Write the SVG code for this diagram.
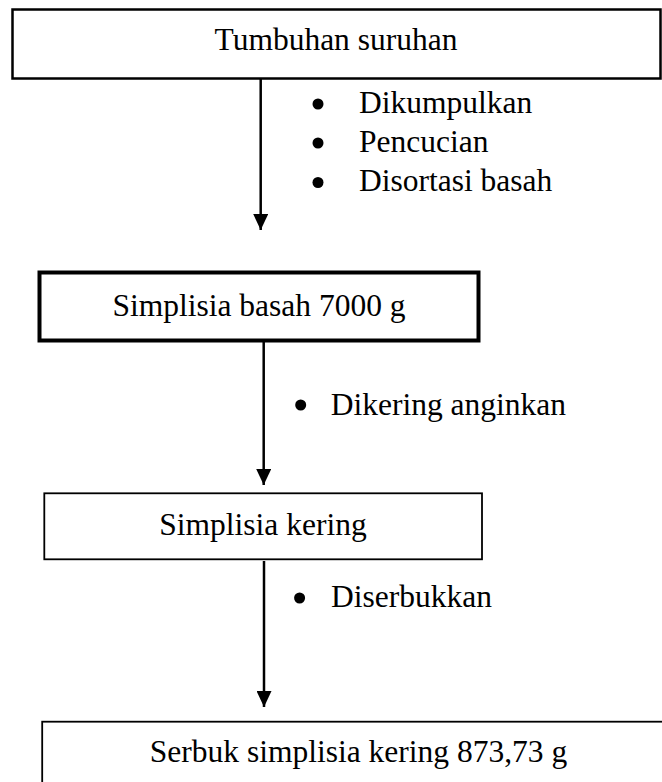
<svg xmlns="http://www.w3.org/2000/svg" width="662" height="782" viewBox="0 0 662 782">
  <defs>
    <marker id="arrow" viewBox="0 0 16 15" refX="16" refY="7.5" markerWidth="16" markerHeight="15" markerUnits="userSpaceOnUse" orient="auto">
      <path d="M0,0 L16,7.5 L0,15 Z" fill="#000"/>
    </marker>
    <style>
      .box { fill: #fff; stroke: #000; }
      .label { font-family: "Liberation Serif", "Times New Roman", serif; font-size: 31.5px; fill: #000; }
      .mid { text-anchor: middle; }
      .edge { stroke: #000; stroke-width: 2.5; fill: none; marker-end: url(#arrow); }
      .dot { fill: #000; }
    </style>
  </defs>
  <rect width="662" height="782" fill="#fff"/>

  <g id="connectors">
    <line class="edge" x1="260.7" y1="79" x2="260.7" y2="230"/>
    <line class="edge" x1="263.7" y1="342" x2="263.7" y2="485"/>
    <line class="edge" x1="264" y1="561" x2="264" y2="707"/>
  </g>

  <g id="node-tumbuhan">
    <rect class="box" x="12.5" y="9.5" width="648" height="69" stroke-width="2.5"/>
    <text class="label mid" x="336" y="50">Tumbuhan suruhan</text>
  </g>

  <!-- bulleted process steps -->
  <g id="steps-1">
    <circle class="dot" cx="318" cy="104" r="5.5"/>
    <text class="label" x="359" y="112.5">Dikumpulkan</text>
    <circle class="dot" cx="318" cy="143" r="5.5"/>
    <text class="label" x="359" y="151.5">Pencucian</text>
    <circle class="dot" cx="318" cy="182.5" r="5.5"/>
    <text class="label" x="359" y="190.5">Disortasi basah</text>
  </g>

  <g id="node-basah">
    <rect class="box" x="39.5" y="272.5" width="439" height="68" stroke-width="4"/>
    <text class="label mid" x="259" y="315.5">Simplisia basah 7000 g</text>
  </g>

  <g id="steps-2">
    <circle class="dot" cx="300.7" cy="405" r="5.5"/>
    <text class="label" x="330.7" y="415">Dikering anginkan</text>
  </g>

  <g id="node-kering">
    <rect class="box" x="44.3" y="493.3" width="437.7" height="66" stroke-width="1.8"/>
    <text class="label mid" x="263" y="535">Simplisia kering</text>
  </g>

  <g id="steps-3">
    <circle class="dot" cx="299.6" cy="598" r="5.5"/>
    <text class="label" x="331" y="607">Diserbukkan</text>
  </g>

  <g id="node-serbuk">
    <rect class="box" x="42.2" y="721.7" width="650" height="100" stroke-width="1.8"/>
    <text class="label mid" x="358.5" y="762">Serbuk simplisia kering 873,73 g</text>
  </g>
</svg>
